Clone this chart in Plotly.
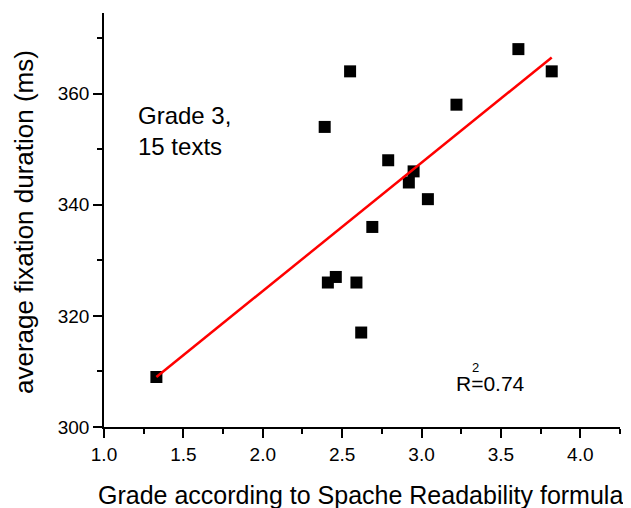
import plotly.graph_objects as go

grade = [2.55, 2.39, 3.61, 3.82, 3.22, 2.79, 2.95, 2.92, 3.04, 2.69, 2.41, 2.46, 2.59, 2.62, 1.33]
fixation = [364, 354, 368, 364, 358, 348, 346, 344, 341, 336, 326, 327, 326, 317, 309]
fit_x = [1.33, 3.82]
fit_y = [309, 366.5]
x_ticks = [1.0, 1.5, 2.0, 2.5, 3.0, 3.5, 4.0]
y_ticks = [300, 320, 340, 360]

FONT = "Liberation Sans, Arial, Helvetica, sans-serif"

# page has an 8px body margin; plot area in page pixels: x 104..620, y 13..427
L, T, PW, PH = 96, 5, 516, 414


def px(xp):
    return (xp - 8 - L) / PW


def py(yp):
    return (T + PH + 8 - yp) / PH


fig = go.Figure()
fig.add_trace(go.Scatter(x=grade, y=fixation, mode="markers",
                         marker=dict(symbol="square", size=12, color="black"),
                         showlegend=False))
fig.add_trace(go.Scatter(x=fit_x, y=fit_y, mode="lines",
                         line=dict(color="#ff0000", width=2.5), showlegend=False))

axis_common = dict(showline=True, linecolor="black", linewidth=1.5, ticks="outside",
                   ticklen=9, tickwidth=1.5, tickcolor="black", showgrid=False,
                   zeroline=False, mirror=False, ticklabelstandoff=0,
                   tickfont=dict(family=FONT, size=19, color="black"))
fig.update_xaxes(range=[1.0, 4.25], tickvals=x_ticks, ticktext=[f"{v:.1f}" for v in x_ticks],
                 minor=dict(ticks="outside", ticklen=5, tickwidth=1.5, tickcolor="black", dtick=0.25, tick0=1.0),
                 **axis_common)
fig.update_yaxes(range=[300, 374.5], tickvals=y_ticks,
                 minor=dict(ticks="outside", ticklen=5, tickwidth=1.5, tickcolor="black", dtick=10, tick0=300),
                 **axis_common)

fig.update_layout(
    width=631, height=508,
    margin=dict(l=L, r=631 - L - PW, t=T, b=508 - T - PH),
    plot_bgcolor="white", paper_bgcolor="white",
    font=dict(family=FONT, color="black"),
    annotations=[
        dict(text="Grade according to Spache Readability formula", xref="paper", yref="paper",
             x=px(360.5), xanchor="center", y=py(495), yanchor="middle",
             showarrow=False, font=dict(family=FONT, size=25)),
        dict(text="average fixation duration (ms)", xref="paper", yref="paper",
             x=px(24), xanchor="center", y=py(222), yanchor="middle", textangle=-90,
             showarrow=False, font=dict(family=FONT, size=26)),
        dict(text="Grade 3,<br>15 texts", xref="paper", yref="paper", x=px(136), y=py(131),
             xanchor="left", yanchor="middle", align="left", showarrow=False,
             font=dict(family=FONT, size=24)),
        dict(text="R=0.74", xref="paper", yref="paper", x=px(490.8), y=py(383.3),
             xanchor="center", yanchor="middle", showarrow=False, font=dict(family=FONT, size=21)),
        dict(text="2", xref="paper", yref="paper", x=px(475.3), y=py(367),
             xanchor="center", yanchor="middle", showarrow=False, font=dict(family=FONT, size=13)),
    ],
)

fig.write_html("out.html")
